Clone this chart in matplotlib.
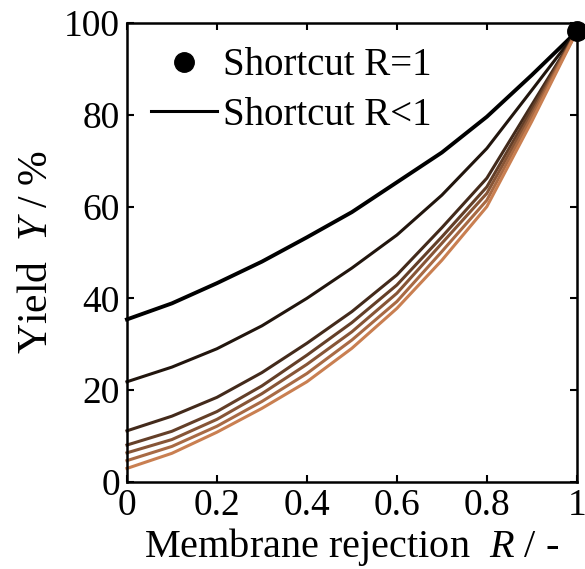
import numpy as np
import matplotlib
matplotlib.use("Agg")
import matplotlib.pyplot as plt

plt.rcParams["font.family"] = ["Liberation Serif", "DejaVu Serif"]
plt.rcParams["mathtext.fontset"] = "custom"
plt.rcParams["mathtext.rm"] = "Liberation Serif"
plt.rcParams["mathtext.it"] = "Liberation Serif:italic"

# membrane rejection R (-)
rejection = [0.0, 0.1, 0.2, 0.3, 0.4, 0.5, 0.6, 0.7, 0.8, 0.9, 1.0]

# yield Y (%) for the shortcut model with R < 1, one list per case
yield_1 = [35.4, 38.9, 43.3, 48.0, 53.3, 58.8, 65.3, 71.8, 79.6, 88.7, 98.2]
yield_2 = [21.8, 25.0, 29.0, 34.0, 40.0, 46.6, 53.8, 62.5, 72.7, 85.4, 98.2]
yield_3 = [11.1, 14.3, 18.4, 23.8, 30.2, 37.1, 45.1, 55.4, 66.2, 82.2, 98.2]
yield_4 = [8.0, 11.0, 15.3, 20.9, 27.6, 34.7, 42.9, 53.4, 64.3, 81.3, 98.2]
yield_5 = [6.3, 9.2, 13.6, 19.2, 25.6, 32.7, 41.1, 52.0, 62.9, 80.4, 98.2]
yield_6 = [4.6, 7.7, 12.1, 17.5, 23.6, 30.9, 39.3, 50.2, 61.4, 79.6, 98.2]
yield_7 = [2.9, 6.2, 10.8, 16.0, 21.8, 29.1, 37.8, 48.3, 60.0, 78.6, 98.2]
curves = [yield_1, yield_2, yield_3, yield_4, yield_5, yield_6, yield_7]

# shortcut model with R = 1
point_r = [1.0]
point_y = [98.2]

fig = plt.figure(figsize=(5.85, 5.69), dpi=100)
ax = fig.add_axes([0.217, 0.1534, 0.769, 0.8058])

colors = plt.cm.copper(np.linspace(0, 0.64, len(curves)))
for i, (ys, c) in enumerate(zip(curves, colors)):
    lw = 2.8 if i == 0 else 2.2
    ax.plot(rejection, ys, color=c, lw=lw, clip_on=False, zorder=2)

ax.plot(point_r, point_y, "o", color="black", ms=14, clip_on=False, zorder=3,
        label="Shortcut R=1")
ax.plot([], [], color="black", lw=2.2, label="Shortcut R<1")

ax.set_xlim(0, 1)
ax.set_ylim(0, 100)
ax.set_xticks([0, 0.2, 0.4, 0.6, 0.8, 1.0])
ax.set_xticklabels(["0", "0.2", "0.4", "0.6", "0.8", "1"])
ax.set_yticks([0, 20, 40, 60, 80, 100])

ax.tick_params(direction="in", top=True, right=True, length=5, width=1.5,
               labelsize=27, pad=5)
for s in ax.spines.values():
    s.set_linewidth(1.8)

ax.set_xlabel(r"Membrane rejection  $R$ / -", fontsize=29, labelpad=2)
ax.set_ylabel(r"Yield  $Y$ / %", fontsize=30, labelpad=6)

ax.legend(loc="upper left", bbox_to_anchor=(0.0, 1.0), frameon=False,
          fontsize=28, handlelength=1.7, handletextpad=0.15,
          labelspacing=0.32, borderaxespad=0.22)

fig.savefig("out.png", dpi=100)
